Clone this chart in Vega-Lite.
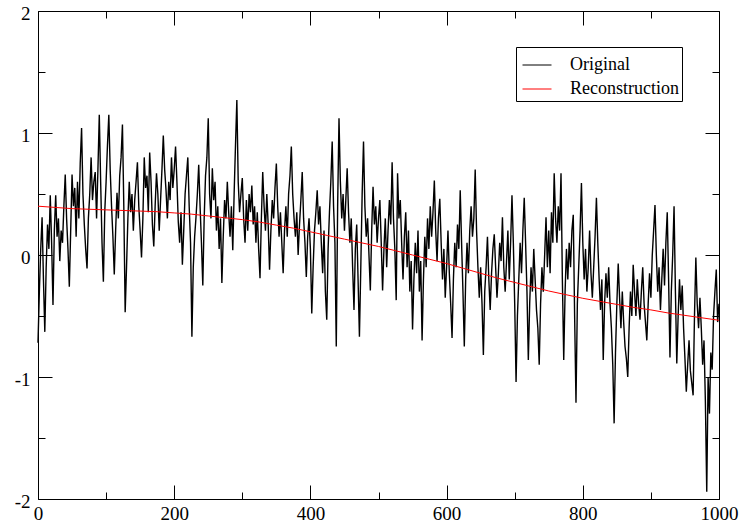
{
"$schema": "https://vega.github.io/schema/vega-lite/v6.json",
"width": 681, "height": 488,
"autosize": "none",
"padding": {"left": 38, "top": 11, "right": 24, "bottom": 23},
"background": "white",
"datasets": {
"orig": [
{"x":0,"y":-0.72},{"x":2,"y":-0.3},{"x":4,"y":0.05},{"x":6,"y":0.31},{"x":8,"y":-0.2},{"x":10,"y":-0.63},{"x":12,"y":-0.1},{"x":14,"y":0.25},{"x":16,"y":0.05},{"x":18,"y":0.49},
{"x":20,"y":0.1},{"x":22,"y":-0.41},{"x":24,"y":0.2},{"x":26,"y":0.49},{"x":28,"y":0.15},{"x":30,"y":0.3},{"x":32,"y":-0.05},{"x":34,"y":0.2},{"x":36,"y":0.1},{"x":38,"y":0.4},
{"x":40,"y":0.66},{"x":42,"y":0.3},{"x":44,"y":0.05},{"x":46,"y":-0.26},{"x":48,"y":0.2},{"x":50,"y":0.66},{"x":52,"y":0.4},{"x":54,"y":0.55},{"x":56,"y":0.15},{"x":58,"y":0.6},
{"x":60,"y":0.3},{"x":62,"y":0.75},{"x":64,"y":1.04},{"x":66,"y":0.5},{"x":68,"y":0.25},{"x":70,"y":0.05},{"x":72,"y":-0.11},{"x":74,"y":0.3},{"x":76,"y":0.5},{"x":78,"y":0.8},
{"x":80,"y":0.45},{"x":82,"y":0.6},{"x":84,"y":0.68},{"x":86,"y":0.3},{"x":88,"y":0.7},{"x":90,"y":1.15},{"x":92,"y":0.6},{"x":94,"y":0.1},{"x":96,"y":-0.22},{"x":98,"y":0.35},
{"x":100,"y":0.6},{"x":102,"y":0.9},{"x":104,"y":1.15},{"x":106,"y":0.7},{"x":108,"y":0.4},{"x":110,"y":0.15},{"x":112,"y":-0.16},{"x":114,"y":0.2},{"x":116,"y":0.51},{"x":118,"y":0.3},
{"x":120,"y":0.65},{"x":122,"y":0.8},{"x":124,"y":1.07},{"x":126,"y":0.4},{"x":128,"y":-0.47},{"x":130,"y":-0.1},{"x":132,"y":0.3},{"x":134,"y":0.6},{"x":136,"y":0.35},{"x":138,"y":0.5},
{"x":140,"y":0.2},{"x":142,"y":0.45},{"x":144,"y":0.6},{"x":146,"y":0.76},{"x":148,"y":0.4},{"x":150,"y":0.2},{"x":152,"y":-0.02},{"x":154,"y":0.3},{"x":156,"y":0.8},{"x":158,"y":0.55},
{"x":160,"y":0.65},{"x":162,"y":0.35},{"x":164,"y":0.84},{"x":166,"y":0.6},{"x":168,"y":0.25},{"x":170,"y":0.07},{"x":172,"y":0.4},{"x":174,"y":0.67},{"x":176,"y":0.5},{"x":178,"y":0.2},
{"x":180,"y":0.45},{"x":182,"y":0.7},{"x":184,"y":0.98},{"x":186,"y":0.7},{"x":188,"y":0.53},{"x":190,"y":0.3},{"x":192,"y":0.6},{"x":194,"y":0.45},{"x":196,"y":0.8},{"x":198,"y":0.55},
{"x":200,"y":0.7},{"x":202,"y":0.89},{"x":204,"y":0.6},{"x":206,"y":0.27},{"x":208,"y":0.1},{"x":210,"y":0.35},{"x":212,"y":-0.08},{"x":214,"y":0.2},{"x":216,"y":0.5},{"x":218,"y":0.65},
{"x":220,"y":0.8},{"x":222,"y":0.4},{"x":224,"y":0.1},{"x":226,"y":-0.67},{"x":228,"y":-0.1},{"x":230,"y":0.15},{"x":232,"y":0.31},{"x":234,"y":0.5},{"x":236,"y":0.74},{"x":238,"y":0.4},
{"x":240,"y":0.1},{"x":242,"y":-0.25},{"x":244,"y":0.3},{"x":246,"y":0.65},{"x":248,"y":0.8},{"x":250,"y":1.12},{"x":252,"y":0.5},{"x":254,"y":0.3},{"x":256,"y":0.71},{"x":258,"y":0.45},
{"x":260,"y":0.6},{"x":262,"y":0.2},{"x":264,"y":0.4},{"x":266,"y":0.05},{"x":268,"y":0.3},{"x":270,"y":-0.23},{"x":272,"y":0.15},{"x":274,"y":0.45},{"x":276,"y":0.3},{"x":278,"y":0.6},
{"x":280,"y":0.35},{"x":282,"y":0.15},{"x":284,"y":0.4},{"x":286,"y":0.04},{"x":288,"y":0.5},{"x":290,"y":0.9},{"x":292,"y":1.27},{"x":294,"y":0.6},{"x":296,"y":0.35},{"x":298,"y":0.5},
{"x":300,"y":0.63},{"x":302,"y":0.3},{"x":304,"y":0.1},{"x":306,"y":0.45},{"x":308,"y":0.2},{"x":310,"y":0.5},{"x":312,"y":0.35},{"x":314,"y":0.57},{"x":316,"y":0.25},{"x":318,"y":0.4},
{"x":320,"y":0.1},{"x":322,"y":0.35},{"x":324,"y":0.05},{"x":326,"y":-0.19},{"x":328,"y":0.3},{"x":330,"y":0.68},{"x":332,"y":0.4},{"x":334,"y":0.2},{"x":336,"y":0.5},{"x":338,"y":0.25},
{"x":340,"y":-0.12},{"x":342,"y":0.2},{"x":344,"y":0.45},{"x":346,"y":0.3},{"x":348,"y":0.55},{"x":350,"y":0.75},{"x":352,"y":0.4},{"x":354,"y":0.15},{"x":356,"y":0.35},{"x":358,"y":0.1},
{"x":360,"y":-0.15},{"x":362,"y":0.2},{"x":364,"y":0.4},{"x":366,"y":0.15},{"x":368,"y":0.5},{"x":370,"y":0.65},{"x":372,"y":0.89},{"x":374,"y":0.5},{"x":376,"y":0.3},{"x":378,"y":0.15},
{"x":380,"y":0.35},{"x":382,"y":0},{"x":384,"y":0.25},{"x":386,"y":0.45},{"x":388,"y":0.68},{"x":390,"y":0.3},{"x":392,"y":0.1},{"x":394,"y":-0.18},{"x":396,"y":0.15},{"x":398,"y":0.3},
{"x":400,"y":0.05},{"x":402,"y":-0.48},{"x":404,"y":-0.1},{"x":406,"y":0.2},{"x":408,"y":0.35},{"x":410,"y":0.53},{"x":412,"y":0.25},{"x":414,"y":0.4},{"x":416,"y":0.1},{"x":418,"y":-0.15},
{"x":420,"y":0.2},{"x":422,"y":-0.3},{"x":424,"y":-0.53},{"x":426,"y":0.05},{"x":428,"y":0.35},{"x":430,"y":0.6},{"x":432,"y":0.93},{"x":434,"y":0.4},{"x":436,"y":0.1},{"x":438,"y":-0.75},
{"x":440,"y":0.4},{"x":442,"y":1.12},{"x":444,"y":0.6},{"x":446,"y":0.3},{"x":448,"y":0.5},{"x":450,"y":0.2},{"x":452,"y":0.45},{"x":454,"y":0.71},{"x":456,"y":0.35},{"x":458,"y":0.1},
{"x":460,"y":0.3},{"x":462,"y":-0.1},{"x":464,"y":-0.45},{"x":466,"y":0.05},{"x":468,"y":0.25},{"x":470,"y":-0.2},{"x":472,"y":-0.67},{"x":474,"y":-0.1},{"x":476,"y":0.5},{"x":478,"y":0.93},
{"x":480,"y":0.4},{"x":482,"y":0.15},{"x":484,"y":0.3},{"x":486,"y":0.0},{"x":488,"y":-0.29},{"x":490,"y":0.2},{"x":492,"y":0.56},{"x":494,"y":0.25},{"x":496,"y":0.4},{"x":498,"y":0.1},
{"x":500,"y":0.3},{"x":502,"y":0.45},{"x":504,"y":0.1},{"x":506,"y":-0.29},{"x":508,"y":0.05},{"x":510,"y":0.3},{"x":512,"y":-0.1},{"x":514,"y":0.2},{"x":516,"y":0.45},{"x":518,"y":0.25},
{"x":520,"y":0.76},{"x":522,"y":0.3},{"x":524,"y":0.05},{"x":526,"y":-0.37},{"x":528,"y":0.67},{"x":530,"y":0.3},{"x":532,"y":0.45},{"x":534,"y":0.1},{"x":536,"y":-0.2},{"x":538,"y":0.15},
{"x":540,"y":0.35},{"x":542,"y":-0.1},{"x":544,"y":0.2},{"x":546,"y":-0.3},{"x":548,"y":-0.05},{"x":550,"y":-0.61},{"x":552,"y":-0.2},{"x":554,"y":0.1},{"x":556,"y":-0.15},{"x":558,"y":0.2},
{"x":560,"y":-0.3},{"x":562,"y":-0.05},{"x":564,"y":-0.7},{"x":566,"y":-0.2},{"x":568,"y":0.15},{"x":570,"y":-0.1},{"x":572,"y":0.3},{"x":574,"y":0.05},{"x":576,"y":0.4},{"x":578,"y":0.15},
{"x":580,"y":0.35},{"x":582,"y":0.61},{"x":584,"y":0.2},{"x":586,"y":-0.05},{"x":588,"y":0.3},{"x":590,"y":0.46},{"x":592,"y":0.1},{"x":594,"y":-0.2},{"x":596,"y":0.05},{"x":598,"y":-0.35},
{"x":600,"y":-0.1},{"x":602,"y":0.2},{"x":604,"y":-0.15},{"x":606,"y":-0.4},{"x":608,"y":-0.68},{"x":610,"y":-0.2},{"x":612,"y":0.1},{"x":614,"y":-0.1},{"x":616,"y":0.25},{"x":618,"y":0.05},
{"x":620,"y":0.53},{"x":622,"y":0.1},{"x":624,"y":-0.3},{"x":626,"y":-0.75},{"x":628,"y":-0.2},{"x":630,"y":0.1},{"x":632,"y":-0.15},{"x":634,"y":0.2},{"x":636,"y":0.4},{"x":638,"y":0.15},
{"x":640,"y":0.3},{"x":642,"y":0.7},{"x":644,"y":0.2},{"x":646,"y":-0.1},{"x":648,"y":-0.35},{"x":650,"y":-0.1},{"x":652,"y":-0.4},{"x":654,"y":-0.82},{"x":656,"y":-0.3},{"x":658,"y":-0.1},
{"x":660,"y":0.15},{"x":662,"y":-0.2},{"x":664,"y":-0.45},{"x":666,"y":-0.15},{"x":668,"y":0.05},{"x":670,"y":0.17},{"x":672,"y":-0.1},{"x":674,"y":-0.35},{"x":676,"y":-0.15},{"x":678,"y":0.1},
{"x":680,"y":-0.05},{"x":682,"y":0.31},{"x":684,"y":-0.1},{"x":686,"y":-0.3},{"x":688,"y":-0.05},{"x":690,"y":0.2},{"x":692,"y":-0.2},{"x":694,"y":0.1},{"x":696,"y":0.49},{"x":698,"y":0.1},
{"x":700,"y":-0.4},{"x":702,"y":-1.04},{"x":704,"y":-0.5},{"x":706,"y":-0.2},{"x":708,"y":0.1},{"x":710,"y":-0.15},{"x":712,"y":0.2},{"x":714,"y":0.47},{"x":716,"y":0.1},{"x":718,"y":-0.3},
{"x":720,"y":-0.86},{"x":722,"y":-0.4},{"x":724,"y":-0.1},{"x":726,"y":-0.3},{"x":728,"y":0.05},{"x":730,"y":-0.2},{"x":732,"y":-0.45},{"x":734,"y":-0.6},{"x":736,"y":-0.9},{"x":738,"y":-0.4},
{"x":740,"y":-0.1},{"x":742,"y":-0.3},{"x":744,"y":0.0},{"x":746,"y":0.31},{"x":748,"y":-0.1},{"x":750,"y":0.2},{"x":752,"y":-0.15},{"x":754,"y":0.35},{"x":756,"y":0.1},{"x":758,"y":0.67},
{"x":760,"y":0.3},{"x":762,"y":0.1},{"x":764,"y":0.4},{"x":766,"y":0.2},{"x":768,"y":0.67},{"x":770,"y":-0.2},{"x":772,"y":-0.86},{"x":774,"y":-0.3},{"x":776,"y":0.05},{"x":778,"y":-0.2},
{"x":780,"y":0.1},{"x":782,"y":-0.1},{"x":784,"y":0.2},{"x":786,"y":0.33},{"x":788,"y":-0.5},{"x":790,"y":-1.21},{"x":792,"y":-0.4},{"x":794,"y":-0.1},{"x":796,"y":0.2},{"x":798,"y":0.59},
{"x":800,"y":0.1},{"x":802,"y":-0.2},{"x":804,"y":0.05},{"x":806,"y":-0.3},{"x":808,"y":-0.1},{"x":810,"y":0.2},{"x":812,"y":-0.15},{"x":814,"y":-0.35},{"x":816,"y":-0.1},{"x":818,"y":0.15},
{"x":820,"y":0.47},{"x":822,"y":0.1},{"x":824,"y":-0.2},{"x":826,"y":-0.45},{"x":828,"y":-0.2},{"x":830,"y":-0.86},{"x":832,"y":-0.4},{"x":834,"y":-0.15},{"x":836,"y":-0.35},{"x":838,"y":-0.1},
{"x":840,"y":-0.4},{"x":842,"y":-0.6},{"x":844,"y":-0.9},{"x":846,"y":-1.38},{"x":848,"y":-0.8},{"x":850,"y":-0.4},{"x":852,"y":-0.07},{"x":854,"y":-0.35},{"x":856,"y":-0.6},{"x":858,"y":-0.3},
{"x":860,"y":-0.55},{"x":862,"y":-0.75},{"x":864,"y":-0.85},{"x":866,"y":-1.0},{"x":868,"y":-0.6},{"x":870,"y":-0.3},{"x":872,"y":-0.5},{"x":874,"y":-0.08},{"x":876,"y":-0.3},{"x":878,"y":-0.5},
{"x":880,"y":-0.2},{"x":882,"y":-0.4},{"x":884,"y":-0.53},{"x":886,"y":-0.3},{"x":888,"y":-0.1},{"x":890,"y":-0.4},{"x":892,"y":-0.55},{"x":894,"y":-0.7},{"x":896,"y":-0.4},{"x":898,"y":-0.15},
{"x":900,"y":-0.35},{"x":902,"y":0.0},{"x":904,"y":0.2},{"x":906,"y":0.41},{"x":908,"y":0.0},{"x":910,"y":-0.3},{"x":912,"y":-0.1},{"x":914,"y":-0.45},{"x":916,"y":-0.2},{"x":918,"y":0.05},
{"x":920,"y":-0.25},{"x":922,"y":0.1},{"x":924,"y":0.35},{"x":926,"y":-0.2},{"x":928,"y":-0.84},{"x":930,"y":-0.3},{"x":932,"y":0.0},{"x":934,"y":0.4},{"x":936,"y":-0.3},{"x":938,"y":-0.89},
{"x":940,"y":-0.5},{"x":942,"y":-0.2},{"x":944,"y":-0.45},{"x":946,"y":-0.25},{"x":948,"y":-0.6},{"x":950,"y":-0.85},{"x":952,"y":-1.12},{"x":954,"y":-0.9},{"x":956,"y":-0.7},{"x":958,"y":-0.95},
{"x":960,"y":-1.05},{"x":962,"y":-1.15},{"x":964,"y":-0.5},{"x":966,"y":-0.02},{"x":968,"y":-0.4},{"x":970,"y":-0.6},{"x":972,"y":-0.35},{"x":974,"y":-0.6},{"x":976,"y":-0.9},{"x":978,"y":-0.7},
{"x":980,"y":-1.2},{"x":982,"y":-1.94},{"x":984,"y":-1.0},{"x":986,"y":-1.3},{"x":988,"y":-0.8},{"x":990,"y":-0.94},{"x":992,"y":-0.5},{"x":994,"y":-0.3},{"x":996,"y":-0.12},{"x":998,"y":-0.55},
{"x":1000,"y":-0.4}
],
"recon": [
{"x":0,"y":0.4},{"x":25,"y":0.39},{"x":50,"y":0.38},{"x":75,"y":0.375},{"x":100,"y":0.37},{"x":125,"y":0.365},{"x":150,"y":0.36},{"x":175,"y":0.355},{"x":200,"y":0.345},{"x":225,"y":0.335},
{"x":250,"y":0.32},{"x":275,"y":0.305},{"x":300,"y":0.29},{"x":325,"y":0.27},{"x":350,"y":0.245},{"x":375,"y":0.22},{"x":400,"y":0.19},{"x":425,"y":0.16},{"x":450,"y":0.13},{"x":475,"y":0.1},
{"x":500,"y":0.07},{"x":525,"y":0.035},{"x":550,"y":0.0},{"x":575,"y":-0.035},{"x":600,"y":-0.07},{"x":625,"y":-0.11},{"x":650,"y":-0.15},{"x":675,"y":-0.19},{"x":700,"y":-0.225},{"x":725,"y":-0.26},
{"x":750,"y":-0.295},{"x":775,"y":-0.325},{"x":800,"y":-0.355},{"x":825,"y":-0.38},{"x":850,"y":-0.405},{"x":875,"y":-0.43},{"x":900,"y":-0.45},{"x":925,"y":-0.475},{"x":950,"y":-0.495},{"x":975,"y":-0.515},
{"x":1000,"y":-0.535}
]
},
"config": {
  "view": {"stroke": "black", "strokeWidth": 1},
  "axis": {"grid": false, "domain": false, "labelFont": "Liberation Serif, Times New Roman, Times, serif", "labelFontSize": 19, "labelColor": "black", "tickColor": "black", "tickWidth": 1, "labelFlush": false, "labelOverlap": false, "title": null}
},
"resolve": {"axis": {"x": "independent", "y": "independent"}},
"layer": [
  {
    "data": {"name": "orig"},
    "mark": {"type": "line", "strokeWidth": 1.4},
    "encoding": {
      "x": {"field": "x", "type": "quantitative", "scale": {"domain": [0, 1000], "nice": false, "zero": false},
            "axis": {"orient": "bottom", "values": [0, 200, 400, 600, 800, 1000], "labelExpr": "'' + datum.value", "ticks": false, "labelPadding": 5}},
      "y": {"field": "y", "type": "quantitative", "scale": {"domain": [-2, 2], "nice": false, "zero": false},
            "axis": {"orient": "left", "values": [-2, -1, 0, 1, 2], "labelExpr": "'' + datum.value", "ticks": false, "labelPadding": 8, "labelOffset": 2}},
      "color": {"datum": "Original", "type": "nominal",
                "scale": {"domain": ["Original", "Reconstruction"], "range": ["black", "#ff0000"]},
                "legend": {"title": null, "orient": "none", "legendX": 478, "legendY": 36, "strokeColor": "black", "fillColor": "white", "padding": 3, "symbolOffset": 3, "symbolType": "stroke", "symbolSize": 841, "symbolStrokeWidth": 1, "labelFont": "Liberation Serif, Times New Roman, Times, serif", "labelFontSize": 18, "labelColor": "black", "labelOffset": 18, "rowPadding": 0}}
    }
  },
  {
    "data": {"name": "recon"},
    "mark": {"type": "line", "strokeWidth": 1},
    "encoding": {
      "x": {"field": "x", "type": "quantitative", "axis": {"orient": "bottom", "values": [0, 200, 400, 600, 800, 1000], "labels": false, "tickSize": -14}},
      "y": {"field": "y", "type": "quantitative", "axis": {"orient": "left", "values": [-2, -1, 0, 1, 2], "labels": false, "tickSize": -14}},
      "color": {"datum": "Reconstruction", "type": "nominal"}
    }
  },
  {
    "data": {"name": "recon"},
    "mark": {"type": "line", "strokeOpacity": 0},
    "encoding": {
      "x": {"field": "x", "type": "quantitative", "axis": {"orient": "bottom", "values": [100, 300, 500, 700, 900], "labels": false, "tickSize": -7}},
      "y": {"field": "y", "type": "quantitative", "axis": {"orient": "left", "values": [-1.5, -0.5, 0.5, 1.5], "labels": false, "tickSize": -7}}
    }
  },
  {
    "data": {"name": "recon"},
    "mark": {"type": "line", "strokeOpacity": 0},
    "encoding": {
      "x": {"field": "x", "type": "quantitative", "axis": {"orient": "top", "values": [0, 200, 400, 600, 800, 1000], "labels": false, "tickSize": -14}},
      "y": {"field": "y", "type": "quantitative", "axis": {"orient": "right", "values": [-2, -1, 0, 1, 2], "labels": false, "tickSize": -14}}
    }
  },
  {
    "data": {"name": "recon"},
    "mark": {"type": "line", "strokeOpacity": 0},
    "encoding": {
      "x": {"field": "x", "type": "quantitative", "axis": {"orient": "top", "values": [100, 300, 500, 700, 900], "labels": false, "tickSize": -7}},
      "y": {"field": "y", "type": "quantitative", "axis": {"orient": "right", "values": [-1.5, -0.5, 0.5, 1.5], "labels": false, "tickSize": -7}}
    }
  }
]
}
